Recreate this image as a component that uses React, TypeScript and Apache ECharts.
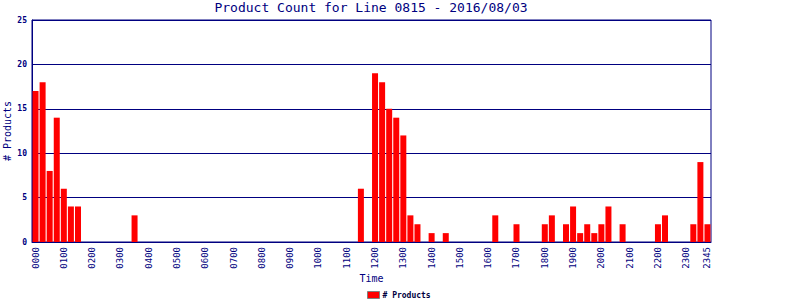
import React, { useEffect, useRef } from "react";
import * as echarts from "echarts";

const categories: string[] = [
  "0000", "0015", "0030", "0045", "0100", "0115", "0130", "0145",
  "0200", "0215", "0230", "0245", "0300", "0315", "0330", "0345",
  "0400", "0415", "0430", "0445", "0500", "0515", "0530", "0545",
  "0600", "0615", "0630", "0645", "0700", "0715", "0730", "0745",
  "0800", "0815", "0830", "0845", "0900", "0915", "0930", "0945",
  "1000", "1015", "1030", "1045", "1100", "1115", "1130", "1145",
  "1200", "1215", "1230", "1245", "1300", "1315", "1330", "1345",
  "1400", "1415", "1430", "1445", "1500", "1515", "1530", "1545",
  "1600", "1615", "1630", "1645", "1700", "1715", "1730", "1745",
  "1800", "1815", "1830", "1845", "1900", "1915", "1930", "1945",
  "2000", "2015", "2030", "2045", "2100", "2115", "2130", "2145",
  "2200", "2215", "2230", "2245", "2300", "2315", "2330", "2345",
];

const products: number[] = [
  17, 18, 8, 14, 6, 4, 4, 0,
  0, 0, 0, 0, 0, 0, 3, 0,
  0, 0, 0, 0, 0, 0, 0, 0,
  0, 0, 0, 0, 0, 0, 0, 0,
  0, 0, 0, 0, 0, 0, 0, 0,
  0, 0, 0, 0, 0, 0, 6, 0,
  19, 18, 15, 14, 12, 3, 2, 0,
  1, 0, 1, 0, 0, 0, 0, 0,
  0, 3, 0, 0, 2, 0, 0, 0,
  2, 3, 0, 2, 4, 1, 2, 1,
  2, 4, 0, 2, 0, 0, 0, 0,
  2, 3, 0, 0, 0, 2, 9, 2,
];

const shownLabels: string[] = [
  "0000", "0100", "0200", "0300", "0400", "0500", "0600", "0700",
  "0800", "0900", "1000", "1100", "1200", "1300", "1400", "1500",
  "1600", "1700", "1800", "1900", "2000", "2100", "2200", "2300", "2345",
];

const yTicks = { min: 0, max: 25, interval: 5 };

const NAVY = "#000080";
const MONO = "'DejaVu Sans Mono', monospace";

export default function App() {
  const ref = useRef<HTMLDivElement>(null);
  useEffect(() => {
    document.body.style.margin = "0";
    if (!ref.current) return;
    const chart = echarts.init(ref.current, null, { renderer: "svg" });
    chart.setOption({
      animation: false,
      backgroundColor: "#ffffff",
      title: {
        text: "Product Count for Line 0815 - 2016/08/03",
        left: 371,
        top: 1,
        padding: 0,
        textAlign: "center",
        textStyle: { fontFamily: MONO, fontSize: 13, fontWeight: "normal", color: NAVY },
      },
      grid: {
        left: 32,
        right: 89,
        top: 20,
        bottom: 58,
        show: true,
        borderColor: NAVY,
        borderWidth: 1,
        containLabel: false,
        outerBoundsMode: "none",
      },
      legend: {
        data: ["# Products"],
        left: 367,
        top: 291,
        padding: 0,
        itemWidth: 12,
        itemHeight: 7,
        itemGap: 0,
        icon: "rect",
        itemStyle: { borderColor: "#808080", borderWidth: 1 },
        textStyle: { fontFamily: MONO, fontSize: 8, fontWeight: "bold", color: "#000040", padding: [0, 0, 0, -2] },
      },
      xAxis: {
        type: "category",
        data: categories,
        name: "Time",
        nameLocation: "middle",
        nameGap: 31,
        nameMoveOverlap: false,
        nameTextStyle: { fontFamily: MONO, fontSize: 10, color: NAVY },
        axisLine: { lineStyle: { color: NAVY, width: 1 } },
        axisTick: { show: false },
        axisLabel: {
          rotate: 90,
          interval: (idx: number, val: string) => shownLabels.indexOf(val) >= 0,
          fontFamily: MONO,
          fontSize: 9,
          color: NAVY,
          margin: 5,
        },
        splitLine: { show: false },
      },
      yAxis: {
        type: "value",
        min: yTicks.min,
        max: yTicks.max,
        interval: yTicks.interval,
        name: "# Products",
        nameLocation: "middle",
        nameGap: 20,
        nameMoveOverlap: false,
        nameTextStyle: { fontFamily: MONO, fontSize: 10, color: NAVY },
        axisLine: { show: true, lineStyle: { color: NAVY, width: 1 } },
        axisTick: { show: false },
        axisLabel: { fontFamily: MONO, fontSize: 8, fontWeight: "bold", color: NAVY, margin: 5 },
        splitLine: { show: true, lineStyle: { color: NAVY, width: 1 } },
      },
      series: [
        {
          name: "# Products",
          type: "bar",
          data: products,
          barWidth: 6,
          itemStyle: { color: "#ff0000" },
        },
      ],
    });
    return () => chart.dispose();
  }, []);
  return <div ref={ref} style={{ width: 800, height: 300 }} />;
}
